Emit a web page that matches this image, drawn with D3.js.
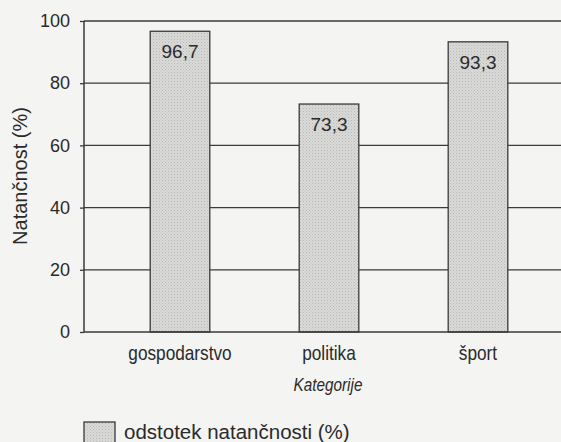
<!DOCTYPE html>
<html>
<head>
<meta charset="utf-8">
<script src="https://cdn.jsdelivr.net/npm/d3@7"></script>
<style>
  html, body { margin: 0; padding: 0; background: #f4f4f3; }
  svg { display: block; }
  .sans { font-family: "Liberation Sans", Arial, sans-serif; }
</style>
</head>
<body>
<script>
const categories = ["gospodarstvo", "politika", "šport"];
const values = [96.7, 73.3, 93.3];
const valueLabels = ["96,7", "73,3", "93,3"];
const yTicks = [0, 20, 40, 60, 80, 100];
const seriesName = "odstotek natančnosti (%)";
const yTitle = "Natančnost (%)";
const xTitle = "Kategorije";

const W = 561, H = 442;
const svg = d3.select("body").append("svg").attr("width", W).attr("height", H);

const defs = svg.append("defs");
const pat = defs.append("pattern").attr("id", "dots").attr("width", 3).attr("height", 3)
  .attr("patternUnits", "userSpaceOnUse");
pat.append("rect").attr("width", 3).attr("height", 3).attr("fill", "#d9d9d8");
pat.append("rect").attr("x", 0).attr("y", 0).attr("width", 1).attr("height", 1).attr("fill", "#b9b9b8");
pat.append("rect").attr("x", 1.5).attr("y", 1.5).attr("width", 1).attr("height", 1).attr("fill", "#c6c6c5");

const plotLeft = 84, plotRight = 575, plotTop = 21, plotBottom = 332;
const y = d3.scaleLinear().domain([0, 100]).range([plotBottom, plotTop]);
const x = d3.scaleBand().domain(categories).range([105.5, 552.5]).paddingInner(0.6).paddingOuter(0.3);

const lineColor = "#3a3a3a";

// gridlines
svg.append("g").selectAll("line").data(yTicks.filter(d => d > 0 && d < 100)).join("line")
  .attr("x1", plotLeft).attr("x2", plotRight)
  .attr("y1", d => y(d)).attr("y2", d => y(d))
  .attr("stroke", lineColor).attr("stroke-width", 1.3);

// y axis
const yAxis = d3.axisLeft(y).tickValues(yTicks).tickSize(4).tickPadding(10).tickFormat(d3.format("d"));
const gy = svg.append("g").attr("transform", `translate(${plotLeft},0)`).call(yAxis);
gy.select(".domain").remove();
gy.selectAll(".tick line").attr("stroke", lineColor).attr("stroke-width", 1.3);
gy.selectAll(".tick text").attr("class", "sans").attr("font-size", 18).attr("fill", "#2a2a2a");

// frame: left, top
svg.append("line").attr("x1", plotLeft).attr("x2", plotLeft).attr("y1", plotTop).attr("y2", plotBottom)
  .attr("stroke", lineColor).attr("stroke-width", 1.5);
svg.append("line").attr("x1", plotLeft).attr("x2", plotRight).attr("y1", plotTop).attr("y2", plotTop)
  .attr("stroke", lineColor).attr("stroke-width", 1.5);

// bars
svg.append("g").selectAll("rect").data(categories).join("rect")
  .attr("x", d => x(d)).attr("width", x.bandwidth())
  .attr("y", (d, i) => y(values[i])).attr("height", (d, i) => y(0) - y(values[i]))
  .attr("fill", "url(#dots)").attr("stroke", lineColor).attr("stroke-width", 1.3);

// bottom axis line
svg.append("line").attr("x1", plotLeft).attr("x2", plotRight).attr("y1", plotBottom).attr("y2", plotBottom)
  .attr("stroke", lineColor).attr("stroke-width", 1.5);

// value labels
svg.append("g").selectAll("text").data(categories).join("text")
  .attr("class", "sans")
  .attr("x", d => x(d) + x.bandwidth() / 2)
  .attr("y", (d, i) => y(values[i]) + 27)
  .attr("text-anchor", "middle").attr("font-size", 19).attr("fill", "#2a2a2a")
  .text((d, i) => valueLabels[i]);

// x category labels (narrow face emulated by horizontal scaling)
const xAxis = d3.axisBottom(x).tickSize(0).tickPadding(0);
const gx = svg.append("g").attr("transform", `translate(0,${plotBottom})`).call(xAxis);
gx.select(".domain").remove();
gx.selectAll(".tick text").attr("class", "sans").attr("font-size", 21).attr("fill", "#2a2a2a")
  .attr("dy", null).attr("y", 28).attr("transform", "scale(0.82,1)");

// axis titles
svg.append("text").attr("class", "sans")
  .attr("transform", "translate(328,391) scale(0.85,1)").attr("text-anchor", "middle")
  .attr("font-size", 18).attr("font-style", "italic").attr("fill", "#2a2a2a").text(xTitle);

svg.append("text").attr("class", "sans")
  .attr("transform", "translate(27,176) rotate(-90)").attr("text-anchor", "middle")
  .attr("font-size", 20).attr("fill", "#2a2a2a").text(yTitle);

// legend
const lg = svg.append("g");
lg.append("rect").attr("x", 84).attr("y", 422).attr("width", 31).attr("height", 24)
  .attr("fill", "url(#dots)").attr("stroke", lineColor).attr("stroke-width", 1.3);
lg.append("text").attr("class", "sans").attr("x", 124).attr("y", 439)
  .attr("font-size", 20.5).attr("fill", "#2a2a2a").text(seriesName);
</script>
</body>
</html>
